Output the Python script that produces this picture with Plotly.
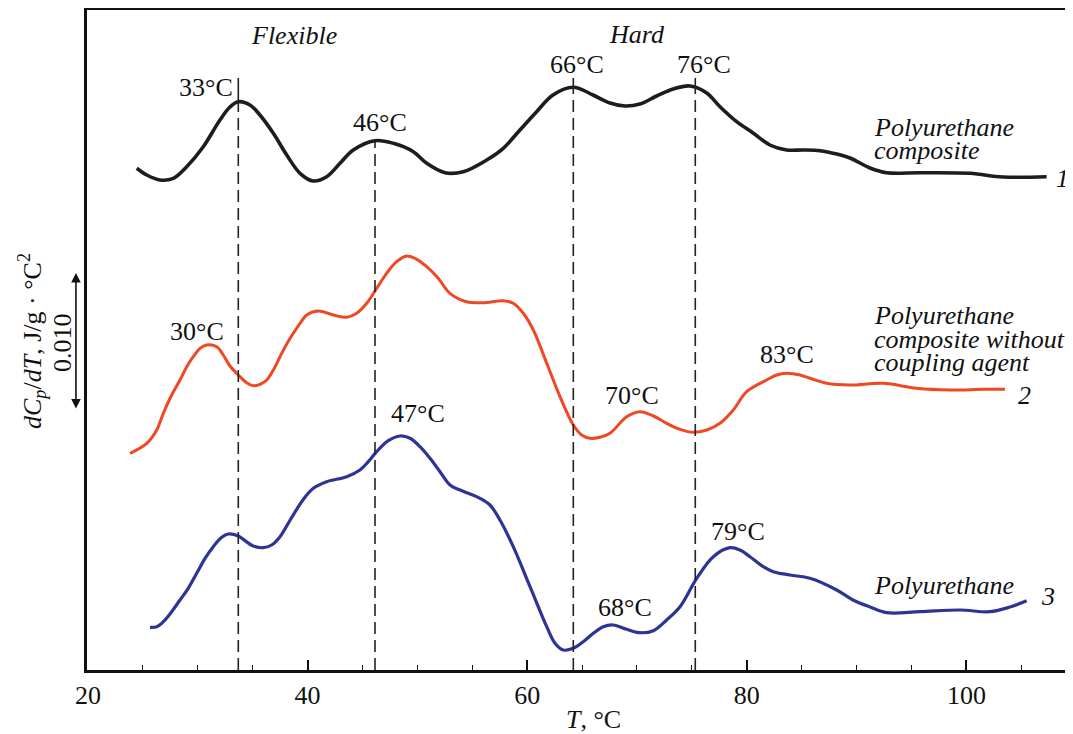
import plotly.graph_objects as go

# ---------------- data (T in °C, signal in arbitrary offset units) ----------------
T1 = [24.44, 25.35, 26.56, 27.77, 28.99, 30.5, 32.02, 32.93, 33.69, 34.75, 35.66, 36.88,
      38.1, 39.31, 40.52, 41.74, 42.95, 44.16, 46.14, 47.81, 49.63, 50.85, 52.51, 54.18,
      56.31, 57.82, 59.34, 60.86, 62.35, 64.2, 66.0, 67.54, 68.91, 70.27, 71.79, 73.3,
      74.83, 76.35, 77.56, 79.08, 80.57, 82.1, 83.63, 85.15, 86.67, 88.19, 89.4, 91.22,
      92.74, 95.77, 100.33, 103.33, 107.31]
Y1 = [50.17, 49.5, 49.0, 49.17, 50.33, 52.33, 55.0, 56.3, 56.83, 56.5, 55.5, 53.67,
      51.5, 49.67, 48.9, 49.33, 50.67, 52.0, 52.93, 52.67, 51.83, 50.67, 49.73, 49.83,
      51.0, 52.17, 54.0, 55.83, 57.5, 58.27, 57.5, 56.7, 56.4, 56.6, 57.4, 58.1,
      58.4, 57.7, 56.33, 54.83, 53.7, 52.5, 52.0, 52.0, 51.93, 51.6, 51.2, 50.2,
      49.73, 49.73, 49.67, 49.3, 49.33]

T2 = [23.83, 25.35, 26.26, 26.86, 27.62, 28.38, 28.99, 29.59, 30.2, 30.81, 31.72, 32.32,
      32.93, 33.69, 34.45, 35.05, 35.66, 36.28, 36.88, 37.49, 38.1, 38.7, 39.31, 39.92,
      40.97, 42.34, 43.56, 44.47, 45.38, 46.29, 47.2, 48.11, 49.03, 49.94, 50.85, 51.9,
      52.97, 54.49, 56.0, 57.82, 58.73, 59.64, 60.56, 61.78, 62.99, 64.2, 64.96, 65.72,
      66.63, 67.54, 69.06, 70.27, 71.49, 72.7, 73.92, 75.13, 76.35, 77.56, 78.77, 79.99,
      81.81, 82.72, 83.63, 84.84, 85.75, 87.28, 89.4, 92.43, 95.47, 98.51, 101.54, 103.52]
Y2 = [21.67, 22.67, 24.0, 25.67, 27.5, 29.0, 30.33, 31.33, 32.17, 32.5, 32.33, 31.5,
      30.4, 29.5, 28.73, 28.43, 28.57, 29.0, 30.0, 31.33, 32.6, 33.67, 34.67, 35.5,
      35.9, 35.5, 35.27, 35.67, 36.67, 38.17, 39.67, 40.83, 41.4, 41.07, 40.33, 39.17,
      37.67, 36.83, 36.73, 36.93, 36.67, 35.67, 34.0, 30.67, 27.33, 24.5, 23.5, 23.17,
      23.27, 23.67, 25.33, 25.83, 25.4, 24.67, 24.07, 23.77, 24.0, 24.67, 26.0, 27.83,
      29.0, 29.5, 29.67, 29.5, 29.17, 28.67, 28.5, 28.67, 28.17, 28.0, 28.07, 28.07]

T3 = [25.65, 26.26, 26.86, 27.62, 28.38, 29.13, 29.9, 30.66, 31.41, 32.18, 32.78, 33.69,
      34.3, 35.05, 35.97, 36.73, 37.49, 38.24, 39.01, 39.76, 40.52, 41.74, 43.56, 44.77,
      45.53, 46.29, 47.35, 48.42, 49.33, 50.24, 51.15, 52.06, 52.97, 53.88, 55.7, 56.61,
      57.52, 58.73, 60.26, 61.78, 62.53, 63.29, 64.2, 65.11, 66.02, 66.93, 67.84, 69.06,
      70.27, 71.49, 72.7, 73.92, 75.44, 76.95, 78.47, 79.38, 80.29, 81.5, 82.41, 83.93,
      85.76, 88.19, 89.67, 91.22, 92.74, 95.77, 99.42, 102.15, 103.97, 105.49]
Y3 = [4.27, 4.33, 4.83, 5.83, 7.0, 8.17, 9.67, 11.17, 12.33, 13.27, 13.6, 13.4,
      12.93, 12.4, 12.23, 12.5, 13.33, 14.67, 16.07, 17.27, 18.17, 18.83, 19.33, 20.0,
      20.83, 21.83, 22.93, 23.4, 23.17, 22.33, 21.17, 19.83, 18.5, 18.0, 17.17, 16.5,
      15.0, 12.33, 8.33, 4.33, 2.67, 2.0, 2.17, 2.83, 3.67, 4.33, 4.5, 4.07,
      3.73, 3.93, 5.0, 6.33, 9.17, 11.33, 12.23, 12.0, 11.33, 10.33, 9.83, 9.5,
      9.17, 8.0, 7.0, 6.3, 5.73, 5.83, 6.0, 5.83, 6.3, 6.93]

# reference (peak) lines: temperature, top of line, curve level where dashes begin
peak_T = [33.69, 46.14, 64.2, 75.31]
peak_top = [59.2, 52.8, 59.2, 59.2]
peak_curve = [56.83, 52.8, 58.27, 58.4]

# peak labels: text, T, level
peak_labels = ["33°C", "46°C", "66°C", "76°C", "30°C", "47°C", "70°C", "83°C", "68°C", "79°C"]
peak_label_T = [30.75, 46.64, 64.5, 76.1, 29.97, 50.05, 69.5, 83.7, 68.9, 79.24]
peak_label_y = [58.3, 54.8, 60.55, 60.55, 33.9, 25.7, 27.5, 31.6, 6.3, 13.9]

region_labels = ["Flexible", "Hard"]
region_T = [38.72, 69.97]
region_y = [63.5, 63.6]

curve_name_lines = ["Polyurethane", "composite", "Polyurethane", "composite without",
                    "coupling agent", "Polyurethane"]
curve_name_y = [54.3, 52.0, 35.5, 33.1, 30.8, 8.5]
curve_name_T = 91.37

curve_numbers = ["1", "2", "3"]
curve_number_T = [108.75, 105.33, 107.43]
curve_number_y = [49.15, 27.5, 7.35]

x_ticks = [20, 40, 60, 80, 100]
x_range = [19.91, 109.71]
y_range = [0, 66]

BLACK = "#1d1d1d"
RED = "#ee4824"
BLUE = "#2e3494"
FONT = "Liberation Serif, Times New Roman, serif"
FS = 26
TXT = "#111111"

fig = go.Figure()
for T, Y, c, w in [(T1, Y1, BLACK, 3.6), (T2, Y2, RED, 3.0), (T3, Y3, BLUE, 3.2)]:
    fig.add_trace(go.Scatter(x=T, y=Y, mode="lines",
                             line=dict(color=c, width=w, shape="spline", smoothing=1.0),
                             showlegend=False, hoverinfo="skip"))

for t, top, cv in zip(peak_T, peak_top, peak_curve):
    if top > cv:
        fig.add_shape(type="line", x0=t, x1=t, y0=cv, y1=top, xref="x", yref="y",
                      line=dict(color="#222222", width=1.6))
    fig.add_shape(type="line", x0=t, x1=t, y0=y_range[0], y1=cv, xref="x", yref="y",
                  line=dict(color="#222222", width=1.6, dash="12px,6px"))

ann = []
for txt, t, y in zip(peak_labels, peak_label_T, peak_label_y):
    ann.append(dict(x=t, y=y, text=txt, showarrow=False, xanchor="center", yanchor="middle",
                    font=dict(family=FONT, size=FS, color=TXT)))
for txt, t, y in zip(region_labels, region_T, region_y):
    ann.append(dict(x=t, y=y, text=f"<i>{txt}</i>", showarrow=False, xanchor="center",
                    yanchor="middle", font=dict(family=FONT, size=FS, color=TXT)))
for txt, y in zip(curve_name_lines, curve_name_y):
    ann.append(dict(x=curve_name_T, y=y, text=f"<i>{txt}</i>", showarrow=False, xanchor="left",
                    yanchor="middle", font=dict(family=FONT, size=FS, color=TXT)))
for txt, t, y in zip(curve_numbers, curve_number_T, curve_number_y):
    ann.append(dict(x=t, y=y, text=f"<i>{txt}</i>", showarrow=False, xanchor="center",
                    yanchor="middle", font=dict(family=FONT, size=FS, color=TXT)))

# x-axis title
ann.append(dict(xref="paper", yref="paper", x=0.514, y=0, yshift=-49, text="<i>T</i>, °C",
                showarrow=False, xanchor="center", yanchor="middle",
                font=dict(family=FONT, size=FS, color=TXT)))
# y-axis title
ann.append(dict(xref="paper", yref="y", x=-0.0558, y=32.9, textangle=-90,
                text="<i>dC<sub>p</sub></i>/<i>dT</i>, J/g · °C<sup>2</sup>",
                showarrow=False, xanchor="center", yanchor="middle",
                font=dict(family=FONT, size=FS, color=TXT)))
# scale bar
ann.append(dict(xref="paper", yref="y", x=-0.0254, y=32.8, textangle=-90, text="0.010",
                showarrow=False, xanchor="center", yanchor="middle",
                font=dict(family=FONT, size=FS, color=TXT)))
ann.append(dict(xref="paper", yref="y", x=-0.0112, y=39.7, ax=0, ay=137, axref="pixel",
                ayref="pixel", text="", showarrow=True, arrowhead=2, arrowsize=1.2,
                arrowwidth=1.6, arrowside="end+start", arrowcolor=TXT))

# the page body adds an 8 px offset, so the figure is 8 px smaller than the window
fig.update_layout(
    width=1065, height=726,
    margin=dict(l=79, r=0, t=2, b=64),
    plot_bgcolor="white", paper_bgcolor="white",
    annotations=ann,
    xaxis=dict(range=x_range, tickvals=x_ticks, ticks="inside", ticklen=10, tickwidth=1.5,
               tickcolor=TXT, showline=True, linecolor=TXT, linewidth=2.6,
               mirror=True, showgrid=False, zeroline=False,
               tickfont=dict(family=FONT, size=FS, color=TXT),
               minor=dict(dtick=5, tick0=20, ticks="inside", ticklen=5, tickwidth=1.2,
                          tickcolor=TXT, showgrid=False)),
    yaxis=dict(range=y_range, showline=True, linecolor=TXT, linewidth=2.6,
               showticklabels=False, ticks="", showgrid=False, zeroline=False),
)

fig.write_html("out.html")
